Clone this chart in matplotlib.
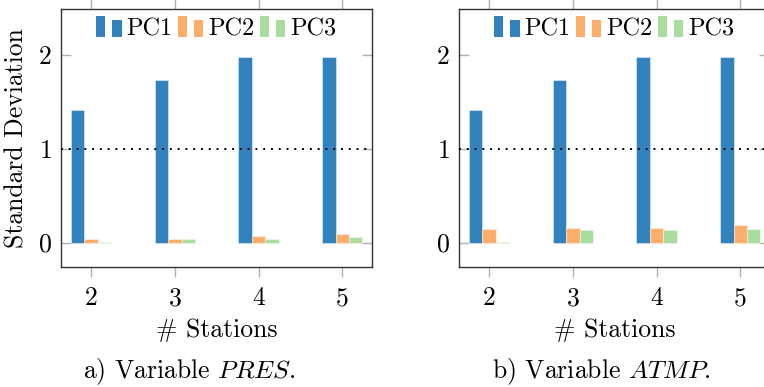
import numpy as np
import matplotlib
matplotlib.use("Agg")
import matplotlib.pyplot as plt
from matplotlib.patches import Rectangle
from matplotlib.legend_handler import HandlerBase

plt.rcParams['font.family'] = 'serif'
plt.rcParams['font.serif'] = ['cmr10']
plt.rcParams['mathtext.fontset'] = 'cm'
plt.rcParams['axes.formatter.use_mathtext'] = True
plt.rcParams['font.size'] = 18.5

stations = [2, 3, 4, 5]
components = ['PC1', 'PC2', 'PC3']
colors = ['#3182bd', '#fdae6b', '#a8dd9f']

# PRES
pres_pc1 = [1.41, 1.73, 1.98, 1.98]
pres_pc2 = [0.04, 0.04, 0.07, 0.09]
pres_pc3 = [0.005, 0.04, 0.04, 0.06]

# ATMP
atmp_pc1 = [1.41, 1.73, 1.98, 1.98]
atmp_pc2 = [0.14, 0.16, 0.16, 0.19]
atmp_pc3 = [0.005, 0.13, 0.13, 0.14]

captions = ['a) Variable $PRES$.', 'b) Variable $ATMP$.']


class BarHandler(HandlerBase):
    # pgfplots style ybar legend: two small bars
    def create_artists(self, legend, orig_handle, xdescent, ydescent,
                       width, height, fontsize, trans):
        c = orig_handle.get_facecolor()
        bw = width * 0.36
        r1 = Rectangle((-xdescent, -ydescent - 1), bw, height * 1.15 + 1,
                       facecolor=c, edgecolor='none', transform=trans)
        r2 = Rectangle((-xdescent + width - bw, -ydescent - 1), bw, height * 0.9 + 1,
                       facecolor=c, edgecolor='none', transform=trans)
        return [r1, r2]


fig = plt.figure(figsize=(7.64, 3.87), dpi=100)
W, H = 764, 387
ax_w = (371.5 - 61) / W
ax_h = (267 - 9) / H
ax1 = fig.add_axes([61 / W, 1 - 267 / H, ax_w, ax_h])
ax2 = fig.add_axes([459 / W, 1 - 267 / H, ax_w, ax_h])

x = np.array(stations, dtype=float)
bw = 0.16

for ax, data in [(ax1, (pres_pc1, pres_pc2, pres_pc3)),
                 (ax2, (atmp_pc1, atmp_pc2, atmp_pc3))]:
    handles = []
    for i, (vals, col, name) in enumerate(zip(data, colors, components)):
        b = ax.bar(x + (i - 1) * bw, vals, width=bw, color=col,
                   edgecolor=(1, 1, 1, 0.5), linewidth=0.6, label=name, zorder=2)
        handles.append(b.patches[0])
    ax.axhline(1, color='black', linestyle=(0, (1, 3)), linewidth=1.4, zorder=3)
    ax.set_xlim(1.64, 5.35)
    ax.set_ylim(-0.26, 2.49)
    ax.set_xticks(stations)
    ax.set_yticks([0, 1, 2])
    ax.tick_params(axis='x', direction='out', top=True, length=7.5, width=1,
                   color='#b0b0b0', pad=6.5)
    ax.tick_params(axis='y', direction='in', right=True, length=7.5, width=1,
                   color='#b0b0b0', pad=6.5)
    for s in ax.spines.values():
        s.set_color('#333333')
        s.set_linewidth(1)
    ax.set_xlabel('# Stations', labelpad=6)
    ax.legend(handles, components, loc='upper center', ncol=3, frameon=False,
              handler_map={Rectangle: BarHandler()}, fontsize=17.5,
              handlelength=1.05, handleheight=0.75, handletextpad=0.2,
              columnspacing=0.22, borderpad=0, borderaxespad=0.38)

ax1.set_ylabel('Standard Deviation', labelpad=7)

fig.text(189 / W, 1 - 372 / H, captions[0], ha='center', va='center')
fig.text(601 / W, 1 - 372 / H, captions[1], ha='center', va='center')

fig.savefig('out.png', dpi=100)
